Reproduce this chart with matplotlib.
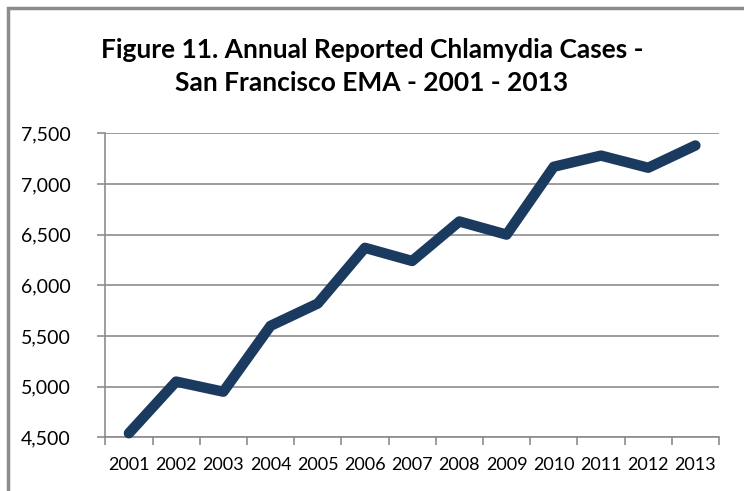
import matplotlib.pyplot as plt
import numpy as np
from matplotlib.patches import Rectangle
from matplotlib.ticker import FuncFormatter, FixedLocator

years = ["2001", "2002", "2003", "2004", "2005", "2006", "2007",
         "2008", "2009", "2010", "2011", "2012", "2013"]
cases = [4540, 5050, 4950, 5600, 5820, 6370, 6240,
         6630, 6500, 7170, 7280, 7160, 7380]
y_ticks = [4500, 5000, 5500, 6000, 6500, 7000, 7500]

LINE_COLOR = "#1b3a5f"
GRID_COLOR = "#8c8c8c"

plt.rcParams["font.family"] = ["Lato", "DejaVu Sans"]

fig = plt.figure(figsize=(7.44, 4.91), dpi=100)
ax = fig.add_axes([105.3 / 744, 1 - 437.3 / 491, (719 - 105.3) / 744, (437.3 - 133.3) / 491])

x = np.arange(len(years))
ax.plot(x, cases, color=LINE_COLOR, linewidth=7.5, solid_joinstyle="round",
        solid_capstyle="round", zorder=3, clip_on=False)

ax.set_xlim(-0.5, len(years) - 0.5)
ax.set_ylim(4500, 7500)
ax.set_yticks(y_ticks)
ax.yaxis.set_major_formatter(FuncFormatter(lambda v, p: f"{int(v):,}"))
ax.grid(axis="y", color=GRID_COLOR, linewidth=1.2)
ax.set_axisbelow(True)

ax.set_xticks(x)
ax.set_xticklabels(years)
ax.xaxis.set_minor_locator(FixedLocator(np.arange(-0.5, len(years), 1.0)))
ax.tick_params(axis="x", which="major", length=0, pad=14, labelsize=13)
ax.tick_params(axis="x", which="minor", length=6, color=GRID_COLOR, width=1.2)
ax.tick_params(axis="y", length=6, color=GRID_COLOR, width=1.2, pad=19, labelsize=14)

for side in ["top", "right"]:
    ax.spines[side].set_visible(False)
for side in ["left", "bottom"]:
    ax.spines[side].set_color(GRID_COLOR)
    ax.spines[side].set_linewidth(1.2)

fig.text(0.5, 1 - 50 / 491, "Figure 11. Annual Reported Chlamydia Cases -",
         ha="center", va="center", fontsize=19, fontweight="bold")
fig.text(0.5, 1 - 83 / 491, "San Francisco EMA - 2001 - 2013",
         ha="center", va="center", fontsize=19, fontweight="bold")

# outer frame, cut off at the right and bottom edge
fig.patches.append(Rectangle((8 / 744, -0.1), 1.2, 1 - 8 / 491 + 0.1,
                             transform=fig.transFigure, fill=False,
                             edgecolor="#8c8c8c", linewidth=2.5))

fig.savefig("out.png", dpi=100)
